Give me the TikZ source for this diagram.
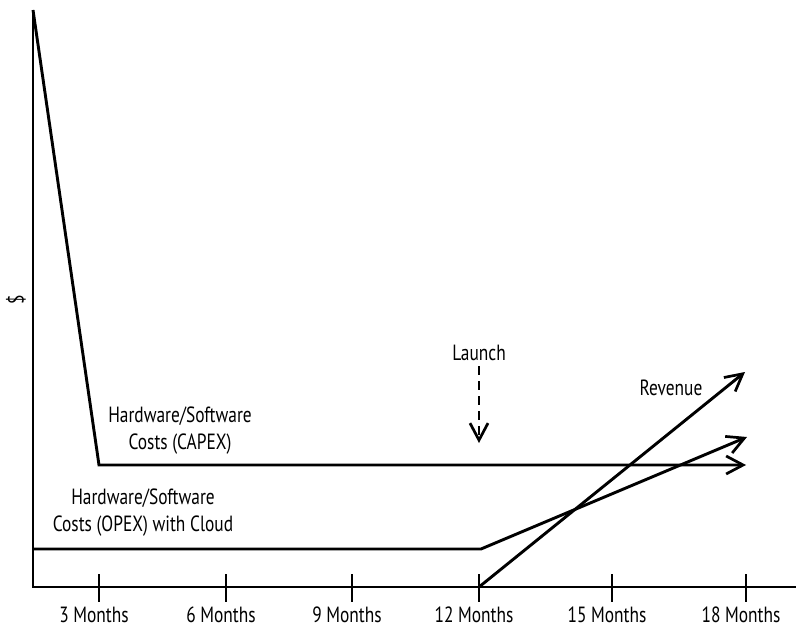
\documentclass[tikz,border=0pt]{standalone}
\usepackage{fontspec}
\setmainfont{PT Sans}[FakeStretch=0.79]
\usetikzlibrary{arrows.meta}

\tikzset{
  curve/.style={line width=2.9bp, line join=miter},
  axisline/.style={line width=2.9bp},
  tickmark/.style={line width=2.9bp},
  lbl/.style={font=\fontsize{22bp}{27bp}\selectfont, inner sep=0pt, align=center},
  openhead/.style={-{Straight Barb[length=17bp, width=18bp, line width=2.7bp]}},
}

\begin{document}
\begin{tikzpicture}[x=1bp, y=-1bp]
  \useasboundingbox (0,0) rectangle (796,630);

  % axes
  \coordinate (origin) at (33,587);
  \coordinate (ytop) at (33,10);
  \coordinate (xend) at (796,587);
  \draw[axisline] (ytop) -- (origin) -- (xend);
  \node[lbl, rotate=90] (dollar) at (16,300) {\$};

  % month ticks and labels
  \foreach \m/\x in {3/99, 6/226, 9/352, 12/479, 15/612, 18/746} {
    \coordinate (tt\m) at (\x,574);
    \coordinate (tb\m) at (\x,602);
    \draw[tickmark] (tt\m) -- (tb\m);
    \node[lbl, anchor=base] (m\m) at (\x-5,622) {\m{} Months};
  }

  % hardware/software costs, bought up front
  \coordinate (capA) at (33,10);
  \coordinate (capB) at (99,465);
  \coordinate (capC) at (746,465);
  \draw[curve, openhead] (capA) -- (capB) -- (capC);
  \node[lbl] (capex) at (180,431) {Hardware/Software\\Costs (CAPEX)};

  % hardware/software costs, rented from the cloud
  \coordinate (opA) at (33,549);
  \coordinate (opB) at (481,549);
  \coordinate (opC) at (747,437);
  \draw[curve, openhead] (opA) -- (opB) -- (opC);
  \node[lbl] (opex) at (143,513) {Hardware/Software\\Costs (OPEX) with Cloud};

  % revenue after launch
  \coordinate (revA) at (479,587);
  \coordinate (revB) at (745,372);
  \draw[curve, openhead] (revA) -- (revB);
  \node[lbl] (revenue) at (671,388) {Revenue};

  % launch marker
  \node[lbl] (launch) at (479,353) {Launch};
  \coordinate (launchtip) at (479,443);
  \draw[curve, openhead, dash pattern=on 9bp off 6bp] ([yshift=-5bp]launch.south) -- (launchtip);
\end{tikzpicture}
\end{document}
